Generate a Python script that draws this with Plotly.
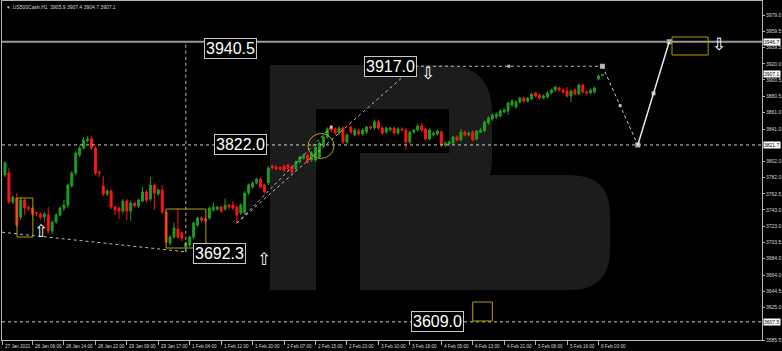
import plotly.graph_objects as go

# ---------------- data ----------------
opens = [3785.3, 3787.7, 3752.6, 3757.4, 3734.4, 3755.0, 3746.0, 3745.3, 3739.5, 3738.0,
         3734.4, 3736.8, 3717.5, 3728.4, 3736.8, 3745.0, 3748.9, 3772.0, 3787.7, 3809.5,
         3818.0, 3827.0, 3829.0, 3818.0, 3789.0, 3772.0, 3762.3, 3766.0, 3746.5, 3745.0,
         3741.7, 3753.8, 3741.7, 3751.4, 3747.7, 3753.8, 3764.7, 3756.2, 3773.2, 3762.3,
         3767.1, 3740.5, 3702.9, 3710.2, 3719.9, 3715.0, 3698.1, 3700.5, 3710.2, 3724.7,
         3733.2, 3732.0, 3733.2, 3742.9, 3744.1, 3746.5, 3744.1, 3748.9, 3748.9, 3746.5,
         3739.3, 3739.3, 3763.5, 3770.7, 3775.6, 3780.4, 3773.2, 3775.6, 3796.2, 3795.0,
         3794.4, 3796.2, 3797.4, 3795.0, 3792.5, 3801.0, 3805.9, 3809.5, 3803.4, 3803.4,
         3807.1, 3821.6, 3831.3, 3843.4, 3841.0, 3836.1, 3842.2, 3825.2, 3843.4, 3833.7,
         3838.6, 3834.9, 3837.3, 3843.4, 3842.2, 3849.5, 3842.2, 3837.3, 3839.8, 3842.2,
         3836.1, 3841.0, 3839.8, 3825.2, 3837.3, 3839.8, 3844.6, 3841.0, 3828.9, 3834.0,
         3834.9, 3837.3, 3821.6, 3822.8, 3824.0, 3831.3, 3827.7, 3837.3, 3834.0, 3837.3,
         3828.9, 3837.3, 3838.6, 3848.2, 3853.1, 3855.5, 3856.7, 3861.6, 3862.8, 3870.0,
         3867.6, 3873.7, 3878.5, 3874.9, 3877.3, 3884.6, 3882.2, 3878.5, 3879.7, 3884.6,
         3888.2, 3890.6, 3888.2, 3887.0, 3880.9, 3888.2, 3883.4, 3894.3, 3885.8, 3884.6,
         3885.8, 3901.5, 3905.9]
highs = [3802.0, 3794.0, 3760.0, 3763.0, 3759.0, 3757.0, 3748.0, 3747.0, 3741.0, 3740.0,
         3740.0, 3746.5, 3730.0, 3739.0, 3747.0, 3755.0, 3775.0, 3790.0, 3814.0, 3821.0,
         3831.3, 3832.0, 3832.0, 3820.0, 3791.0, 3784.0, 3768.0, 3768.0, 3748.0, 3747.0,
         3756.0, 3756.0, 3754.0, 3753.0, 3757.0, 3771.0, 3767.0, 3783.0, 3775.0, 3769.0,
         3773.0, 3742.0, 3713.0, 3728.0, 3745.0, 3717.0, 3705.0, 3712.0, 3729.0, 3735.0,
         3735.0, 3734.0, 3747.0, 3752.0, 3748.0, 3748.0, 3757.0, 3750.0, 3754.0, 3748.0,
         3751.0, 3766.0, 3775.0, 3778.0, 3782.0, 3782.0, 3775.0, 3796.0, 3798.0, 3797.0,
         3796.0, 3798.0, 3799.0, 3797.0, 3803.0, 3809.0, 3811.0, 3811.0, 3814.0, 3821.0,
         3826.0, 3833.0, 3843.0, 3846.0, 3843.0, 3844.0, 3844.0, 3836.0, 3845.0, 3842.0,
         3841.0, 3842.0, 3845.0, 3845.0, 3852.0, 3852.0, 3844.0, 3844.0, 3844.0, 3844.0,
         3843.0, 3843.0, 3842.0, 3839.0, 3841.0, 3847.0, 3848.0, 3843.0, 3842.0, 3838.0,
         3840.0, 3839.0, 3826.0, 3827.0, 3833.0, 3833.0, 3841.0, 3839.0, 3838.0, 3839.0,
         3840.0, 3842.0, 3851.0, 3856.0, 3860.0, 3861.0, 3865.0, 3866.0, 3874.0, 3877.0,
         3876.0, 3880.0, 3880.0, 3880.0, 3885.0, 3886.0, 3884.0, 3883.0, 3887.0, 3890.0,
         3893.0, 3892.0, 3890.0, 3891.8, 3889.0, 3890.0, 3896.0, 3896.0, 3888.0, 3890.0,
         3892.0, 3907.0, 3907.4]
lows = [3783.0, 3750.0, 3750.0, 3722.0, 3731.0, 3737.0, 3742.0, 3735.0, 3735.0, 3731.0,
        3728.0, 3715.0, 3714.0, 3726.0, 3735.0, 3742.0, 3746.0, 3770.0, 3785.0, 3807.0,
        3816.0, 3825.0, 3816.0, 3785.0, 3782.9, 3760.0, 3760.0, 3744.0, 3737.0, 3732.0,
        3739.0, 3730.8, 3730.0, 3746.0, 3745.0, 3752.0, 3752.0, 3754.0, 3743.0, 3760.0,
        3738.0, 3702.0, 3700.0, 3708.0, 3708.0, 3705.0, 3692.3, 3698.0, 3708.0, 3722.0,
        3728.0, 3727.0, 3731.0, 3741.0, 3742.0, 3739.0, 3742.0, 3744.0, 3743.0, 3727.0,
        3737.0, 3737.0, 3761.0, 3769.0, 3774.0, 3769.0, 3763.0, 3773.0, 3792.0, 3791.0,
        3791.0, 3789.0, 3789.0, 3786.0, 3790.0, 3799.0, 3804.0, 3799.0, 3801.0, 3801.0,
        3805.0, 3819.0, 3829.0, 3837.0, 3834.0, 3834.0, 3823.0, 3823.0, 3835.0, 3832.0,
        3833.0, 3833.0, 3835.0, 3840.0, 3840.0, 3840.0, 3834.0, 3835.0, 3838.0, 3834.0,
        3834.0, 3838.0, 3815.5, 3823.0, 3835.0, 3838.0, 3838.0, 3827.0, 3827.0, 3832.0,
        3833.0, 3819.0, 3819.0, 3821.0, 3822.0, 3826.0, 3826.0, 3832.0, 3832.0, 3826.0,
        3827.0, 3836.0, 3837.0, 3846.0, 3851.0, 3853.0, 3855.0, 3860.0, 3858.0, 3868.0,
        3866.0, 3872.0, 3873.0, 3873.0, 3876.0, 3879.0, 3877.0, 3877.0, 3878.0, 3883.0,
        3886.0, 3886.0, 3884.0, 3879.0, 3873.7, 3882.0, 3882.0, 3884.0, 3883.0, 3883.0,
        3884.0, 3900.0, 3904.7]
closes = [3799.8, 3752.6, 3758.6, 3724.7, 3755.0, 3745.3, 3745.0, 3738.0, 3739.0, 3734.4,
          3738.0, 3717.5, 3728.4, 3736.8, 3745.3, 3748.9, 3773.2, 3787.7, 3811.9, 3818.0,
          3827.7, 3829.0, 3818.0, 3787.7, 3788.0, 3762.3, 3766.0, 3746.5, 3743.0, 3741.7,
          3753.8, 3741.7, 3751.4, 3748.0, 3755.0, 3764.7, 3755.0, 3773.2, 3763.5, 3767.1,
          3740.5, 3704.1, 3710.2, 3721.1, 3710.2, 3709.0, 3702.9, 3710.2, 3727.1, 3733.2,
          3730.8, 3729.5, 3745.3, 3746.5, 3746.5, 3741.7, 3748.9, 3746.5, 3745.3, 3736.8,
          3748.9, 3763.5, 3773.2, 3775.6, 3780.4, 3770.7, 3764.7, 3793.8, 3793.8, 3792.5,
          3793.0, 3791.3, 3793.8, 3788.9, 3801.0, 3807.1, 3809.5, 3801.0, 3811.9, 3819.2,
          3824.0, 3831.3, 3841.0, 3839.8, 3836.1, 3842.2, 3825.2, 3833.7, 3837.3, 3839.8,
          3834.9, 3839.8, 3843.4, 3842.2, 3849.5, 3842.2, 3836.1, 3842.2, 3842.2, 3836.1,
          3841.0, 3839.8, 3825.2, 3837.3, 3839.8, 3844.6, 3839.8, 3828.9, 3839.8, 3836.1,
          3838.6, 3821.6, 3824.0, 3825.2, 3831.3, 3827.7, 3837.3, 3833.7, 3836.0, 3827.7,
          3838.6, 3839.8, 3849.5, 3854.3, 3857.9, 3859.1, 3862.8, 3864.0, 3872.5, 3874.9,
          3873.7, 3878.5, 3874.9, 3878.5, 3883.4, 3880.9, 3878.5, 3880.9, 3884.6, 3888.2,
          3891.8, 3888.2, 3885.8, 3880.9, 3887.0, 3883.4, 3894.3, 3885.8, 3884.6, 3888.2,
          3890.6, 3905.2, 3907.1]
bars = list(range(len(opens)))

y_tick_vals = [3979.0, 3959.5, 3939.5, 3920.0, 3900.5, 3880.5, 3861.0, 3841.0, 3802.0,
               3782.0, 3762.5, 3743.0, 3723.0, 3703.5, 3684.0, 3664.0, 3644.5, 3625.0, 3585.5]
x_tick_bars = [-0.7, 7, 15, 23, 31, 39, 47, 55, 63, 71, 79, 87, 95, 103, 111, 119, 127, 135, 143, 151]
x_tick_text = ["27 Jan 2021", "28 Jan 06:00", "28 Jan 14:00", "28 Jan 22:00", "29 Jan 09:00",
               "29 Jan 17:00", "1 Feb 04:00", "1 Feb 12:00", "1 Feb 20:00", "2 Feb 07:00",
               "2 Feb 15:00", "2 Feb 23:00", "3 Feb 10:00", "3 Feb 18:00", "4 Feb 05:00",
               "4 Feb 13:00", "4 Feb 21:00", "5 Feb 08:00", "5 Feb 16:00", "8 Feb 03:00"]
price_tags = [3946.7, 3907.1, 3821.7, 3607.5]

# analysis objects: (bar, price)
level_labels = [("3940.5", 57.3, 3939.0), ("3917.0", 98.0, 3916.5), ("3822.0", 60.0, 3821.7),
                ("3692.3", 54.5, 3690.8), ("3609.0", 110.0, 3608.5)]
up_arrows = [(9.2, 3717.5), (65.9, 3683.6)]
down_arrows = [(107.6, 3909.0), (181.7, 3944.0)]
forecast_bars = [152, 161, 169]
forecast_prices = [3917.0, 3821.7, 3946.7]

GREEN = "#1e9e1e"
RED = "#ff1414"
YEL = "#b0a000"
FG = "#d8d8d8"
LOGO = "#1c1c1c"

fig = go.Figure()

# watermark logo (paper coords from pixel helper)
X0, X1, Y0, Y1 = 2, 762, 1, 340
def px(x):
    return (x - X0) / (X1 - X0)
def py(y):
    return (Y1 - y) / (Y1 - Y0)
def rrect(x0, y0, x1, y1, r):
    # rectangle with rounded right corners, pixel coords
    return (f"M {px(x0)},{py(y0)} L {px(x1 - r)},{py(y0)} Q {px(x1)},{py(y0)} {px(x1)},{py(y0 + r)} "
            f"L {px(x1)},{py(y1 - r)} Q {px(x1)},{py(y1)} {px(x1 - r)},{py(y1)} L {px(x0)},{py(y1)} Z")

for path in (rrect(270, 65, 492, 205, 48), rrect(360, 175, 610, 290, 40)):
    fig.add_shape(type="path", path=path, xref="paper", yref="paper", fillcolor=LOGO,
                  line=dict(width=0), layer="below")
fig.add_shape(type="rect", xref="paper", yref="paper", x0=px(270), x1=px(316), y0=py(290), y1=py(65),
              fillcolor=LOGO, line=dict(width=0), layer="below")
fig.add_shape(type="rect", xref="paper", yref="paper", x0=px(316), x1=px(449), y0=py(153), y1=py(109),
              fillcolor="black", line=dict(width=0), layer="below")
fig.add_shape(type="rect", xref="paper", yref="paper", x0=px(316), x1=px(360), y0=py(290), y1=py(153),
              fillcolor="black", line=dict(width=0), layer="below")

fig.add_trace(go.Candlestick(
    x=bars, open=opens, high=highs, low=lows, close=closes,
    increasing=dict(line=dict(color=GREEN, width=1), fillcolor=GREEN),
    decreasing=dict(line=dict(color=RED, width=1), fillcolor=RED),
    whiskerwidth=0, hoverinfo="skip", showlegend=False))

# horizontal levels
fig.add_shape(type="line", xref="paper", x0=0, x1=1, y0=price_tags[0], y1=price_tags[0],
              line=dict(color="#9a9a9a", width=2))
for lv in (price_tags[2], price_tags[3]):
    fig.add_shape(type="line", xref="paper", x0=0, x1=1, y0=lv, y1=lv,
                  line=dict(color="#cfcfcf", width=1, dash="dot"))

dot = dict(color="#bdbdbd", width=1, dash="dot")
low_bar = 46
fig.add_shape(type="line", x0=low_bar, x1=low_bar, y0=3692.3, y1=price_tags[0], line=dot)
fig.add_shape(type="line", x0=-0.76, x1=low_bar, y0=3716.0, y1=3692.3, line=dot)
fig.add_shape(type="line", x0=59, x1=83.0, y0=3727.0, y1=3843.4, line=dot)
fig.add_shape(type="line", x0=59, x1=104.3, y0=3727.0, y1=3917.0, line=dot)
fig.add_shape(type="line", x0=104.3, x1=forecast_bars[0], y0=3917.0, y1=3917.0, line=dot)
fig.add_shape(type="line", x0=forecast_bars[0], x1=forecast_bars[1], y0=forecast_prices[0],
              y1=forecast_prices[1], line=dict(color="#d0d0d0", width=1, dash="dot"))
fig.add_shape(type="line", x0=forecast_bars[1], x1=forecast_bars[2], y0=forecast_prices[1],
              y1=forecast_prices[2], line=dict(color="#e8e8e8", width=1.5))

mk_x = [83.0, 128.2, forecast_bars[0], (forecast_bars[0] + forecast_bars[1]) / 2, forecast_bars[1],
        (forecast_bars[1] + forecast_bars[2]) / 2, forecast_bars[2]]
mk_y = [3843.4, 3917.0, forecast_prices[0], (forecast_prices[0] + forecast_prices[1]) / 2,
        forecast_prices[1], (forecast_prices[1] + forecast_prices[2]) / 2, forecast_prices[2]]
mk_s = [3, 3, 5, 3, 5, 4, 5]
fig.add_trace(go.Scatter(x=mk_x, y=mk_y, mode="markers", hoverinfo="skip", showlegend=False,
                         marker=dict(symbol="square", color="white", size=mk_s, line=dict(width=0))))

# boxes and circle
for (a, b, c, d) in [(3.05, 7.1, 3710.2, 3757.4), (41.0, 51.1, 3696.9, 3744.1),
                     (169.7, 178.9, 3930.6, 3952.4), (119.0, 124.0, 3608.5, 3631.5)]:
    fig.add_shape(type="rect", x0=a, x1=b, y0=c, y1=d, line=dict(color=YEL, width=1))
fig.add_shape(type="circle", x0=77.1, x1=83.7, y0=3805.3, y1=3835.5, line=dict(color=YEL, width=1))

annotations = []
for txt, bx, pr in level_labels:
    annotations.append(dict(x=bx, y=pr, text=txt, showarrow=False, bgcolor="black",
                            bordercolor="#c8c8c8", borderwidth=1, borderpad=1,
                            font=dict(family="Liberation Sans", size=16, color="white")))
for bx, pr in up_arrows:
    annotations.append(dict(x=bx, y=pr, text="⇧", showarrow=False,
                            font=dict(family="DejaVu Sans", size=17, color="white")))
for bx, pr in down_arrows:
    annotations.append(dict(x=bx, y=pr, text="⇩", showarrow=False,
                            font=dict(family="DejaVu Sans", size=17, color="white")))
for pr in price_tags:
    annotations.append(dict(x=1, xref="paper", xanchor="left", xshift=1, y=pr, text=f"{pr:.1f}",
                            showarrow=False, bgcolor="white", borderpad=0,
                            font=dict(family="Liberation Sans", size=5, color="black")))
for bx, txt in zip(x_tick_bars, x_tick_text):
    annotations.append(dict(x=bx, y=0, yref="paper", xanchor="left", yanchor="top", xshift=0.5,
                            yshift=-1.5, text=txt, showarrow=False,
                            font=dict(family="Liberation Sans", size=4.6, color=FG)))
annotations.append(dict(x=0, xref="paper", y=1, yref="paper", xanchor="left", yanchor="top",
                        xshift=3, yshift=-1, showarrow=False,
                        text="▾ .US500Cash,H1  3905.9 3907.4 3904.7 3907.1",
                        font=dict(family="Liberation Sans", size=5, color=FG)))

fig.update_layout(
    width=782, height=351, margin=dict(l=2, r=20, t=1, b=11),
    paper_bgcolor="black", plot_bgcolor="black", showlegend=False,
    annotations=annotations,
    xaxis=dict(range=[-0.76, 192.6], rangeslider=dict(visible=False), showgrid=False,
               zeroline=False, showline=True, linecolor="#b4b4b4", linewidth=1, mirror=True,
               tickmode="array", tickvals=x_tick_bars, showticklabels=False, ticks="outside",
               ticklen=4, tickcolor="#b4b4b4", automargin=False),
    yaxis=dict(side="right", range=[3585.5, 3996.0], showgrid=False, zeroline=False,
               showline=True, linecolor="#b4b4b4", linewidth=1, mirror=True, automargin=False,
               tickmode="array", tickvals=y_tick_vals,
               ticktext=[f"{v:.1f}" for v in y_tick_vals], ticks="outside", ticklen=2,
               tickcolor="#b4b4b4", tickfont=dict(family="Liberation Sans", size=5, color=FG)),
)

fig.write_html("out.html")
